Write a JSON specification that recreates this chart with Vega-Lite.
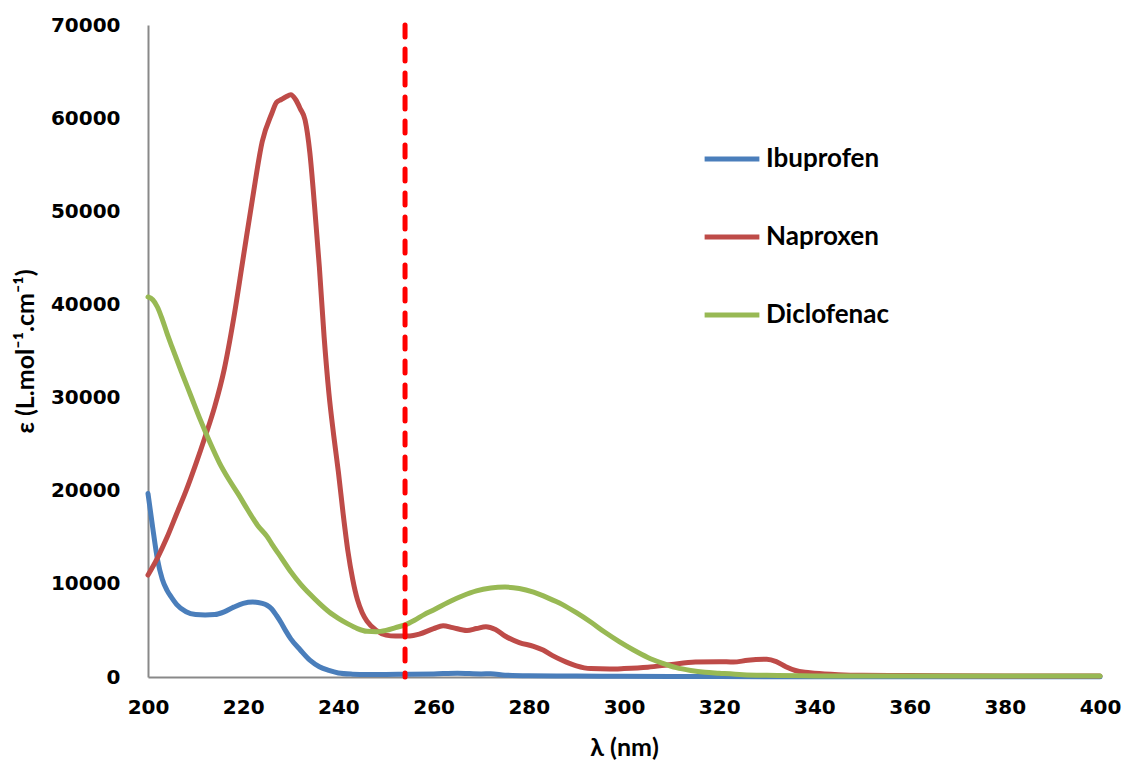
{
  "$schema": "https://vega.github.io/schema/vega-lite/v6.json",
  "width": 952,
  "height": 652,
  "autosize": "none",
  "padding": {"left": 148, "top": 25, "right": 22, "bottom": 92},
  "background": "white",
  "config": {
    "view": {"stroke": null},
    "axis": {
      "grid": false,
      "ticks": false,
      "domainColor": "#898989",
      "domainWidth": 2,
      "labelFont": "DejaVu Sans",
      "labelFontWeight": "bold",
      "labelFontSize": 20,
      "labelColor": "#000000",
      "labelFlush": false,
      "labelOverlap": false,
      "format": "d",
      "titleFont": "Lato",
      "titleFontWeight": "bold",
      "titleFontSize": 25,
      "titleColor": "#000000"
    },
    "legend": {
      "labelFont": "Lato",
      "labelFontWeight": "bold",
      "labelFontSize": 26,
      "labelColor": "#000000"
    }
  },
  "datasets": {
    "spectra": [
      {"compound": "Ibuprofen", "wl": 200, "eps": 19700},
      {"compound": "Ibuprofen", "wl": 201, "eps": 16000},
      {"compound": "Ibuprofen", "wl": 202, "eps": 12600},
      {"compound": "Ibuprofen", "wl": 203, "eps": 10500},
      {"compound": "Ibuprofen", "wl": 204, "eps": 9300},
      {"compound": "Ibuprofen", "wl": 205, "eps": 8500},
      {"compound": "Ibuprofen", "wl": 206, "eps": 7800},
      {"compound": "Ibuprofen", "wl": 208, "eps": 7000},
      {"compound": "Ibuprofen", "wl": 210, "eps": 6700},
      {"compound": "Ibuprofen", "wl": 212, "eps": 6650},
      {"compound": "Ibuprofen", "wl": 214, "eps": 6700},
      {"compound": "Ibuprofen", "wl": 216, "eps": 7000},
      {"compound": "Ibuprofen", "wl": 218, "eps": 7500},
      {"compound": "Ibuprofen", "wl": 220, "eps": 7900},
      {"compound": "Ibuprofen", "wl": 222, "eps": 8050},
      {"compound": "Ibuprofen", "wl": 224, "eps": 7900},
      {"compound": "Ibuprofen", "wl": 225, "eps": 7700},
      {"compound": "Ibuprofen", "wl": 226, "eps": 7300},
      {"compound": "Ibuprofen", "wl": 227, "eps": 6600},
      {"compound": "Ibuprofen", "wl": 228, "eps": 5800},
      {"compound": "Ibuprofen", "wl": 229, "eps": 4900},
      {"compound": "Ibuprofen", "wl": 230, "eps": 4100},
      {"compound": "Ibuprofen", "wl": 232, "eps": 2900},
      {"compound": "Ibuprofen", "wl": 234, "eps": 1800},
      {"compound": "Ibuprofen", "wl": 236, "eps": 1100},
      {"compound": "Ibuprofen", "wl": 238, "eps": 700},
      {"compound": "Ibuprofen", "wl": 240, "eps": 430},
      {"compound": "Ibuprofen", "wl": 243, "eps": 300},
      {"compound": "Ibuprofen", "wl": 246, "eps": 260},
      {"compound": "Ibuprofen", "wl": 250, "eps": 280},
      {"compound": "Ibuprofen", "wl": 255, "eps": 300},
      {"compound": "Ibuprofen", "wl": 260, "eps": 330},
      {"compound": "Ibuprofen", "wl": 265, "eps": 400},
      {"compound": "Ibuprofen", "wl": 270, "eps": 330},
      {"compound": "Ibuprofen", "wl": 272, "eps": 350},
      {"compound": "Ibuprofen", "wl": 275, "eps": 200},
      {"compound": "Ibuprofen", "wl": 280, "eps": 130},
      {"compound": "Ibuprofen", "wl": 290, "eps": 100},
      {"compound": "Ibuprofen", "wl": 300, "eps": 80},
      {"compound": "Ibuprofen", "wl": 320, "eps": 50},
      {"compound": "Ibuprofen", "wl": 340, "eps": 30},
      {"compound": "Ibuprofen", "wl": 360, "eps": 20},
      {"compound": "Ibuprofen", "wl": 380, "eps": 20},
      {"compound": "Ibuprofen", "wl": 400, "eps": 20},
      {"compound": "Naproxen", "wl": 200, "eps": 10950},
      {"compound": "Naproxen", "wl": 202, "eps": 12800},
      {"compound": "Naproxen", "wl": 204, "eps": 15000},
      {"compound": "Naproxen", "wl": 206, "eps": 17500},
      {"compound": "Naproxen", "wl": 208, "eps": 20000},
      {"compound": "Naproxen", "wl": 210, "eps": 22800},
      {"compound": "Naproxen", "wl": 212, "eps": 25800},
      {"compound": "Naproxen", "wl": 214, "eps": 29000},
      {"compound": "Naproxen", "wl": 216, "eps": 33000},
      {"compound": "Naproxen", "wl": 218, "eps": 38500},
      {"compound": "Naproxen", "wl": 220, "eps": 45000},
      {"compound": "Naproxen", "wl": 222, "eps": 51500},
      {"compound": "Naproxen", "wl": 224, "eps": 57500},
      {"compound": "Naproxen", "wl": 226, "eps": 60500},
      {"compound": "Naproxen", "wl": 227, "eps": 61700},
      {"compound": "Naproxen", "wl": 228, "eps": 62000},
      {"compound": "Naproxen", "wl": 229, "eps": 62300},
      {"compound": "Naproxen", "wl": 230, "eps": 62500},
      {"compound": "Naproxen", "wl": 231, "eps": 62000},
      {"compound": "Naproxen", "wl": 232, "eps": 61000},
      {"compound": "Naproxen", "wl": 233, "eps": 59800},
      {"compound": "Naproxen", "wl": 234, "eps": 56300},
      {"compound": "Naproxen", "wl": 235, "eps": 50500},
      {"compound": "Naproxen", "wl": 236, "eps": 44000},
      {"compound": "Naproxen", "wl": 237, "eps": 36500},
      {"compound": "Naproxen", "wl": 238, "eps": 30500},
      {"compound": "Naproxen", "wl": 239, "eps": 26000},
      {"compound": "Naproxen", "wl": 240, "eps": 22000},
      {"compound": "Naproxen", "wl": 241, "eps": 17500},
      {"compound": "Naproxen", "wl": 242, "eps": 13500},
      {"compound": "Naproxen", "wl": 243, "eps": 10500},
      {"compound": "Naproxen", "wl": 244, "eps": 8300},
      {"compound": "Naproxen", "wl": 245, "eps": 6900},
      {"compound": "Naproxen", "wl": 246, "eps": 6000},
      {"compound": "Naproxen", "wl": 248, "eps": 5000},
      {"compound": "Naproxen", "wl": 250, "eps": 4500},
      {"compound": "Naproxen", "wl": 252, "eps": 4400},
      {"compound": "Naproxen", "wl": 255, "eps": 4400},
      {"compound": "Naproxen", "wl": 257, "eps": 4600},
      {"compound": "Naproxen", "wl": 260, "eps": 5200},
      {"compound": "Naproxen", "wl": 262, "eps": 5500},
      {"compound": "Naproxen", "wl": 264, "eps": 5300},
      {"compound": "Naproxen", "wl": 267, "eps": 5000},
      {"compound": "Naproxen", "wl": 269, "eps": 5200},
      {"compound": "Naproxen", "wl": 271, "eps": 5400},
      {"compound": "Naproxen", "wl": 273, "eps": 5100},
      {"compound": "Naproxen", "wl": 275, "eps": 4400},
      {"compound": "Naproxen", "wl": 278, "eps": 3700},
      {"compound": "Naproxen", "wl": 281, "eps": 3300},
      {"compound": "Naproxen", "wl": 283, "eps": 2900},
      {"compound": "Naproxen", "wl": 285, "eps": 2300},
      {"compound": "Naproxen", "wl": 287, "eps": 1800},
      {"compound": "Naproxen", "wl": 290, "eps": 1200},
      {"compound": "Naproxen", "wl": 293, "eps": 900},
      {"compound": "Naproxen", "wl": 297, "eps": 850},
      {"compound": "Naproxen", "wl": 300, "eps": 900},
      {"compound": "Naproxen", "wl": 305, "eps": 1050},
      {"compound": "Naproxen", "wl": 310, "eps": 1350},
      {"compound": "Naproxen", "wl": 315, "eps": 1600},
      {"compound": "Naproxen", "wl": 320, "eps": 1650},
      {"compound": "Naproxen", "wl": 323, "eps": 1600},
      {"compound": "Naproxen", "wl": 326, "eps": 1800},
      {"compound": "Naproxen", "wl": 330, "eps": 1900},
      {"compound": "Naproxen", "wl": 332, "eps": 1650},
      {"compound": "Naproxen", "wl": 334, "eps": 1100},
      {"compound": "Naproxen", "wl": 336, "eps": 700},
      {"compound": "Naproxen", "wl": 338, "eps": 500},
      {"compound": "Naproxen", "wl": 340, "eps": 400},
      {"compound": "Naproxen", "wl": 345, "eps": 250},
      {"compound": "Naproxen", "wl": 350, "eps": 180},
      {"compound": "Naproxen", "wl": 360, "eps": 150},
      {"compound": "Naproxen", "wl": 380, "eps": 120},
      {"compound": "Naproxen", "wl": 400, "eps": 100},
      {"compound": "Diclofenac", "wl": 200, "eps": 40800},
      {"compound": "Diclofenac", "wl": 201, "eps": 40500},
      {"compound": "Diclofenac", "wl": 202, "eps": 39700},
      {"compound": "Diclofenac", "wl": 203, "eps": 38400},
      {"compound": "Diclofenac", "wl": 204, "eps": 36900},
      {"compound": "Diclofenac", "wl": 205, "eps": 35500},
      {"compound": "Diclofenac", "wl": 207, "eps": 32800},
      {"compound": "Diclofenac", "wl": 209, "eps": 30200},
      {"compound": "Diclofenac", "wl": 211, "eps": 27600},
      {"compound": "Diclofenac", "wl": 213, "eps": 25200},
      {"compound": "Diclofenac", "wl": 215, "eps": 23000},
      {"compound": "Diclofenac", "wl": 217, "eps": 21200},
      {"compound": "Diclofenac", "wl": 219, "eps": 19600},
      {"compound": "Diclofenac", "wl": 221, "eps": 17900},
      {"compound": "Diclofenac", "wl": 223, "eps": 16300},
      {"compound": "Diclofenac", "wl": 225, "eps": 15100},
      {"compound": "Diclofenac", "wl": 226, "eps": 14300},
      {"compound": "Diclofenac", "wl": 228, "eps": 12800},
      {"compound": "Diclofenac", "wl": 230, "eps": 11300},
      {"compound": "Diclofenac", "wl": 232, "eps": 10000},
      {"compound": "Diclofenac", "wl": 234, "eps": 8900},
      {"compound": "Diclofenac", "wl": 236, "eps": 7900},
      {"compound": "Diclofenac", "wl": 238, "eps": 7000},
      {"compound": "Diclofenac", "wl": 240, "eps": 6300},
      {"compound": "Diclofenac", "wl": 242, "eps": 5700},
      {"compound": "Diclofenac", "wl": 244, "eps": 5200},
      {"compound": "Diclofenac", "wl": 246, "eps": 4900},
      {"compound": "Diclofenac", "wl": 248, "eps": 4850},
      {"compound": "Diclofenac", "wl": 250, "eps": 5000},
      {"compound": "Diclofenac", "wl": 252, "eps": 5300},
      {"compound": "Diclofenac", "wl": 254, "eps": 5600},
      {"compound": "Diclofenac", "wl": 256, "eps": 6100},
      {"compound": "Diclofenac", "wl": 258, "eps": 6700},
      {"compound": "Diclofenac", "wl": 260, "eps": 7200},
      {"compound": "Diclofenac", "wl": 263, "eps": 8000},
      {"compound": "Diclofenac", "wl": 266, "eps": 8700},
      {"compound": "Diclofenac", "wl": 269, "eps": 9250},
      {"compound": "Diclofenac", "wl": 272, "eps": 9550},
      {"compound": "Diclofenac", "wl": 275, "eps": 9650},
      {"compound": "Diclofenac", "wl": 278, "eps": 9500},
      {"compound": "Diclofenac", "wl": 281, "eps": 9100},
      {"compound": "Diclofenac", "wl": 284, "eps": 8500},
      {"compound": "Diclofenac", "wl": 287, "eps": 7800},
      {"compound": "Diclofenac", "wl": 290, "eps": 6900},
      {"compound": "Diclofenac", "wl": 293, "eps": 5900},
      {"compound": "Diclofenac", "wl": 296, "eps": 4800},
      {"compound": "Diclofenac", "wl": 299, "eps": 3800},
      {"compound": "Diclofenac", "wl": 302, "eps": 2900},
      {"compound": "Diclofenac", "wl": 305, "eps": 2100},
      {"compound": "Diclofenac", "wl": 308, "eps": 1500},
      {"compound": "Diclofenac", "wl": 311, "eps": 1000},
      {"compound": "Diclofenac", "wl": 314, "eps": 700},
      {"compound": "Diclofenac", "wl": 317, "eps": 500},
      {"compound": "Diclofenac", "wl": 320, "eps": 400},
      {"compound": "Diclofenac", "wl": 325, "eps": 250},
      {"compound": "Diclofenac", "wl": 330, "eps": 180},
      {"compound": "Diclofenac", "wl": 340, "eps": 120},
      {"compound": "Diclofenac", "wl": 360, "eps": 100},
      {"compound": "Diclofenac", "wl": 400, "eps": 100}
    ],
    "marker": [{"wl": 254}]
  },
  "layer": [
    {
      "data": {"name": "spectra"},
      "mark": {"type": "line", "interpolate": "monotone", "strokeWidth": 5, "strokeCap": "round"},
      "encoding": {
        "x": {
          "field": "wl", "type": "quantitative",
          "scale": {"domain": [200, 400], "nice": false},
          "axis": {"values": [200, 220, 240, 260, 280, 300, 320, 340, 360, 380, 400], "labelPadding": 20, "title": "λ (nm)", "titlePadding": 18}
        },
        "y": {
          "field": "eps", "type": "quantitative",
          "scale": {"domain": [0, 70000], "nice": false},
          "axis": {"values": [0, 10000, 20000, 30000, 40000, 50000, 60000, 70000], "labelPadding": 28, "title": "ε (L.mol⁻¹.cm⁻¹)", "titlePadding": 12}
        },
        "color": {
          "field": "compound", "type": "nominal",
          "scale": {"domain": ["Ibuprofen", "Naproxen", "Diclofenac"], "range": ["#4A7EBB", "#BE4B48", "#98B954"]},
          "legend": {
            "title": null,
            "orient": "none",
            "legendX": 554,
            "legendY": 104,
            "symbolType": "stroke",
            "symbolSize": 3000,
            "symbolStrokeWidth": 5,
            "labelOffset": 4,
            "rowPadding": 35
          }
        }
      }
    },
    {
      "data": {"name": "marker"},
      "mark": {"type": "rule", "color": "#FF0000", "strokeWidth": 5, "strokeCap": "round", "strokeDash": [12, 12]},
      "encoding": {
        "x": {"field": "wl", "type": "quantitative"}
      }
    }
  ]
}
